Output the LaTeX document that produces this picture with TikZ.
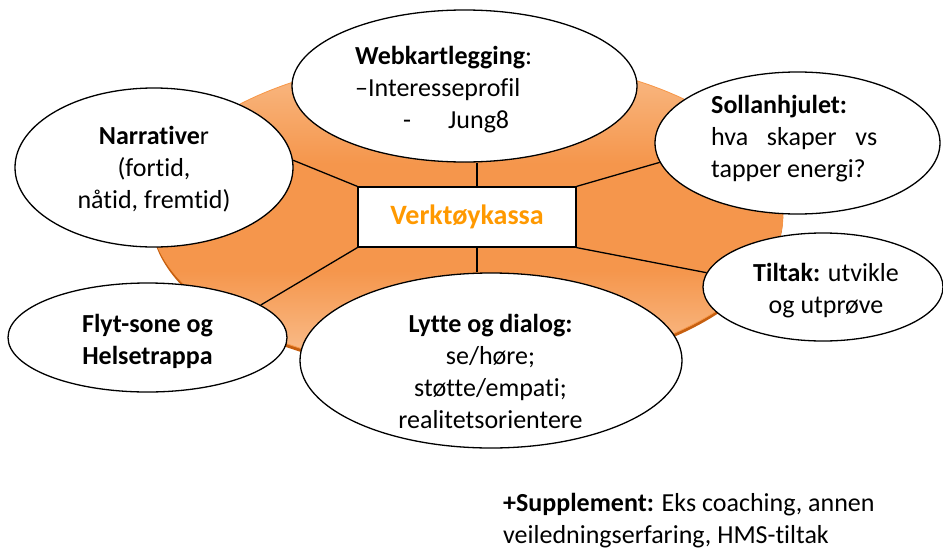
\documentclass[tikz,border=0pt]{standalone}
\usepackage{fontspec}
\setmainfont{Carlito}[Ligatures={TeX,NoCommon}]
\usetikzlibrary{shapes.geometric,calc}
\definecolor{orLight}{HTML}{F9BE8C}
\definecolor{orMid}{HTML}{F5964C}
\definecolor{orLow}{HTML}{FAC497}
\definecolor{orRim}{HTML}{C65F10}
\definecolor{orEdge}{HTML}{F79646}
\definecolor{toolTxt}{HTML}{FF9900}
\pgfdeclareverticalshading{discshade}{100bp}{color(0bp)=(orLow); color(25bp)=(orLow); color(41bp)=(orMid); color(58bp)=(orMid); color(75bp)=(orLight); color(100bp)=(orLight)}
\pgfdeclarelayer{background}
\pgfsetlayers{background,main}
\begin{document}
\begin{tikzpicture}[x=1pt,y=-1pt,
  bubble/.style={ellipse,draw=black,line width=1.3pt,fill=white,inner sep=0pt},
  txt/.style={inner sep=0pt,font=\fontsize{26}{32}\selectfont},
  spoke/.style={draw=black,line width=1.3pt}]
\useasboundingbox (0,0) rectangle (943,549);

% centre box
\node[draw=black,line width=1.2pt,fill=white,minimum width=218pt,minimum height=60pt,
      inner sep=0pt,font=\fontsize{28}{34}\selectfont\bfseries,text=toolTxt] (box) at (467,217) {Verktøykassa};

% bubbles
\node[bubble,minimum width=345pt,minimum height=152pt] (web) at (464.5,86) {};
\node[bubble,minimum width=285pt,minimum height=142pt] (soll) at (797.5,143) {};
\node[bubble,minimum width=278pt,minimum height=159pt] (narr) at (154,167.5) {};
\node[bubble,minimum width=279pt,minimum height=109pt] (flyt) at (147.5,337.5) {};
\node[bubble,minimum width=240pt,minimum height=108pt] (tilt) at (823,287) {};
\node[bubble,minimum width=382pt,minimum height=175pt] (lytte) at (491,360.5) {};

% texts
\node[txt,anchor=west,align=left] (webtxt) at (355,90)
  {\textbf{Webkartlegging}:\\–Interesseprofil\\\hspace*{48pt}-\hspace*{37pt}Jung8};
\node[txt,anchor=west,align=left] (solltxt) at (711,139)
  {\textbf{Sollanhjulet:}\\\makebox[166pt][s]{hva\hfill skaper\hfill vs}\\tapper energi?};
\node[txt,align=center] (narrtxt) at (154,169)
  {\textbf{Narrative}r\\(fortid,\\nåtid, fremtid)};
\node[txt,align=center] (flyttxt) at (147.5,341)
  {\textbf{Flyt-sone og}\\\textbf{Helsetrappa}};
\node[txt,align=center] (tilttxt) at (826,291)
  {\textbf{Tiltak:} utvikle\\og utprøve};
\node[txt,align=center] (lyttetxt) at (490.5,371.5)
  {\textbf{Lytte og dialog:}\\se/høre;\\støtte/empati;\\realitetsorientere};
\node[txt,anchor=west,align=left] (supp) at (503,521)
  {\textbf{+Supplement:} Eks coaching, annen\\veiledningserfaring, HMS-tiltak};

\coordinate (tm) at ($(box.north)+(10,0)$);
\coordinate (bm) at ($(box.south)+(10,0)$);

\begin{pgfonlayer}{background}
  \fill[orRim] (467,217.5) ellipse [x radius=316, y radius=158];
  \node[ellipse,inner sep=0pt,minimum width=632pt,minimum height=316pt,
        shading=discshade,draw=orEdge,line width=0.8pt] (disc) at (467,214) {};
  \draw[spoke] (box.north west) -- (narr.3);
  \draw[spoke] (tm) -- (tm |- web.south);
  \draw[spoke] (box.north east) -- (soll.188);
  \draw[spoke] (box.south west) -- (flyt.16);
  \draw[spoke] (bm) -- (bm |- lytte.north);
  \draw[spoke] (box.south east) -- (tilt.173);
\end{pgfonlayer}
\end{tikzpicture}
\end{document}
